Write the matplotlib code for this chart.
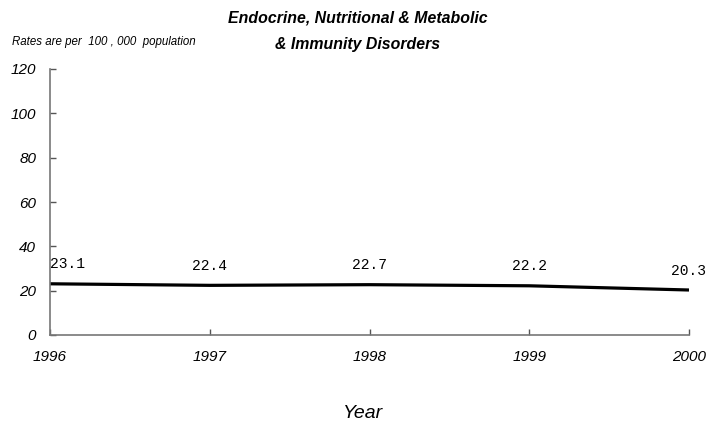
import matplotlib
matplotlib.use("Agg")
import matplotlib.pyplot as plt

years = [1996, 1997, 1998, 1999, 2000]
rates = [23.1, 22.4, 22.7, 22.2, 20.3]
yticks = [0, 20, 40, 60, 80, 100, 120]

SANS = "Liberation Sans"

fig = plt.figure(figsize=(7.09, 4.26), dpi=100)
ax = fig.add_axes([50/709, 1-335/426, 639/709, 266/426])

ax.plot(years, rates, color="black", lw=2.3, solid_capstyle="butt")
ax.set_xlim(years[0], years[-1])
ax.set_ylim(0, 120)
ax.set_xticks(years)
ax.set_yticks(yticks)
ax.set_xticklabels([str(y) for y in years], fontstyle="italic", family=SANS, fontsize=11)
ax.set_yticklabels([str(y) for y in yticks], fontstyle="italic", family=SANS, fontsize=11)
ax.tick_params(axis="both", direction="in", length=4.5, color="#555555", width=1)
ax.tick_params(axis="x", pad=11)
ax.tick_params(axis="y", pad=10)
for s in ["top", "right"]:
    ax.spines[s].set_visible(False)
for s in ["left", "bottom"]:
    ax.spines[s].set_color("#777777")
    ax.spines[s].set_linewidth(1.2)

for i, (x, y) in enumerate(zip(years, rates)):
    ha = "left" if i == 0 else "center"
    ax.annotate(f"{y:.1f}", (x, y), xytext=(0, 14), textcoords="offset points",
                ha=ha, va="center", family="Liberation Mono", fontsize=10.5)

fig.text(358/709, 1-18/426, "Endocrine, Nutritional & Metabolic", ha="center", va="center",
         fontstyle="italic", fontweight="bold", family=SANS, fontsize=11.4)
fig.text(358/709, 1-45/426, "& Immunity Disorders", ha="center", va="center",
         fontstyle="italic", fontweight="bold", family=SANS, fontsize=11.4)
fig.text(12/709, 1-42/426, "Rates are per  100 , 000  population", ha="left", va="center",
         fontstyle="italic", family=SANS, fontsize=8.3)
fig.text(363/709, 1-414/426, "Year", ha="center", va="center",
         fontstyle="italic", family=SANS, fontsize=14)

fig.savefig("out.png", dpi=100)
